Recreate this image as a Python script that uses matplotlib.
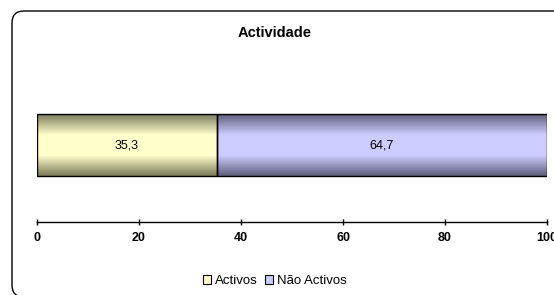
import numpy as np
import matplotlib
matplotlib.use("Agg")
import matplotlib.pyplot as plt
from matplotlib.patches import FancyBboxPatch, Patch
from matplotlib.colors import LinearSegmentedColormap

plt.rcParams['font.family'] = ['Liberation Sans', 'DejaVu Sans']

title = "Actividade"
series = ["Activos", "Não Activos"]
values = [35.3, 64.7]
labels = ["35,3", "64,7"]
xticks = [0, 20, 40, 60, 80, 100]

light = ["#FFFFCC", "#CCCCFF"]
dark = ["#7A7A5A", "#5E5E7A"]

fig = plt.figure(figsize=(5.54, 2.95), dpi=100)

# rounded outer border (inch coordinates)
border = FancyBboxPatch((0.12, -0.02), 6.0, 2.95 - 0.11 + 0.02,
                        boxstyle="round,pad=0,rounding_size=0.12",
                        transform=fig.dpi_scale_trans, fill=False,
                        edgecolor="black", linewidth=1.0)
fig.patches.append(border)

ax = fig.add_axes([37/554, 1-222/295, (547-37)/554, (222-68)/295])
left = 0
for i, (s, v) in enumerate(zip(series, values)):
    bars = ax.barh([0], [v], left=left, height=0.4, color=light[i],
                   edgecolor="black", linewidth=1.0, zorder=3)
    p = bars[0]
    cmap = LinearSegmentedColormap.from_list("g%d" % i, [dark[i], light[i], light[i], dark[i]])
    grad = np.linspace(0, 1, 256).reshape(-1, 1)
    im = ax.imshow(grad, cmap=cmap, aspect="auto",
                   extent=[left, left + v, -0.2, 0.2], zorder=2, interpolation="bilinear")
    im.set_clip_path(p)
    p.set_facecolor("none")
    ax.text(left + v/2, 0, labels[i], ha="center", va="center", fontsize=9, zorder=4)
    left += v

ax.set_xlim(0, 100)
ax.set_ylim(-0.5, 0.5)
ax.set_xticks(xticks)
ax.set_xticklabels([str(t) for t in xticks], fontweight="bold", fontsize=9)
ax.set_yticks([])
for side in ["top", "right", "left"]:
    ax.spines[side].set_visible(False)
ax.spines["bottom"].set_linewidth(1.0)
ax.tick_params(axis="x", direction="inout", length=5, width=1.0, pad=5)
ax.patch.set_alpha(0)

fig.text(275/554, 1-33/295, title, ha="center", va="center", fontsize=10.5, fontweight="bold")

handles = [Patch(facecolor=light[i], edgecolor="black", linewidth=0.8) for i in range(2)]
fig.legend(handles, series, loc="center", bbox_to_anchor=(275/554, 1-281/295),
           ncol=2, frameon=False, fontsize=9.5, handlelength=0.6, handleheight=0.6,
           handletextpad=0.3, columnspacing=0.6)

fig.savefig("out.png", dpi=100)
